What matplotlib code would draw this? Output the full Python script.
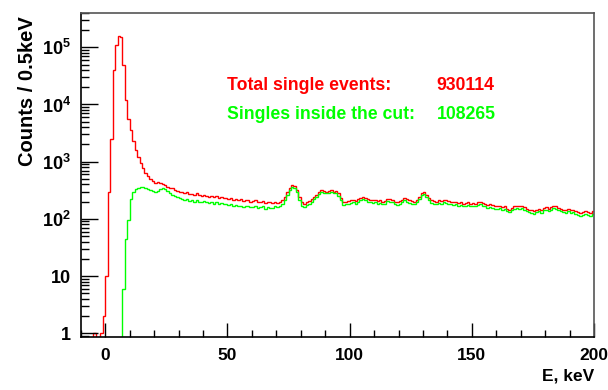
import matplotlib.pyplot as plt
import numpy as np
from matplotlib.ticker import LogLocator, MultipleLocator, NullFormatter

plt.rcParams["font.family"] = ["Liberation Sans", "DejaVu Sans"]
plt.rcParams["font.weight"] = "bold"
plt.rcParams["mathtext.fontset"] = "custom"
plt.rcParams["mathtext.rm"] = "Liberation Sans:bold"
plt.rcParams["mathtext.it"] = "Liberation Sans:bold"
plt.rcParams["mathtext.bf"] = "Liberation Sans:bold"

# histogram binning: 1 keV bins starting at -10 keV
bin_start = -10
bin_width = 1

# total single events, counts per bin (bins -10 .. 199 keV)
total = [
    0, 0, 0, 0, 0, 1, 0, 0, 1, 2,
    10, 300, 2500, 40000, 110000, 160000, 150000, 50000, 12000, 5500,
    3600, 2300, 1600, 1200, 950, 780, 640, 560, 500, 450,
    430, 435, 420, 410, 385, 360, 350, 340, 320, 310,
    300, 295, 285, 290, 270, 275, 265, 280, 260, 255,
    260, 250, 245, 255, 240, 250, 235, 240, 230, 235,
    225, 230, 215, 225, 210, 220, 205, 215, 210, 200,
    205, 210, 195, 200, 205, 190, 200, 195, 190, 200,
    190, 195, 210, 240, 290, 350, 390, 380, 320, 240,
    200, 185, 195, 205, 220, 240, 265, 300, 320, 310,
    300, 305, 315, 300, 310, 280, 230, 195, 200, 205,
    210, 215, 205, 220, 235, 240, 230, 220, 215, 210,
    215, 205, 210, 200, 205, 225, 220, 215, 200, 195,
    205, 215, 230, 220, 210, 205, 200, 215, 240, 280,
    300, 260, 230, 210, 205, 200, 210, 205, 215, 210,
    205, 200, 195, 200, 190, 195, 185, 190, 195, 185,
    190, 185, 195, 200, 190, 185, 175, 180, 175, 170,
    165, 170, 160, 165, 150, 145, 155, 165, 170, 165,
    170, 160, 150, 145, 140, 135, 145, 150, 140, 155,
    160, 150, 160, 170, 165, 155, 150, 145, 140, 150,
    140, 145, 135, 130, 125, 130, 135, 130, 125, 135,
]

# singles inside the cut
inside = [
    0, 0, 0, 0, 0, 0, 0, 0, 0, 0,
    0, 0, 0, 0, 0, 0, 0, 6, 45, 95,
    220, 290, 330, 350, 360, 355, 340, 335, 320, 310,
    300, 310, 330, 345, 330, 305, 285, 260, 250, 240,
    230, 225, 215, 220, 205, 215, 200, 210, 200, 195,
    205, 195, 190, 200, 185, 195, 180, 190, 180, 185,
    175, 180, 165, 175, 165, 170, 160, 170, 165, 160,
    160, 170, 155, 160, 165, 150, 160, 155, 155, 165,
    160, 170, 185, 215, 265, 320, 360, 350, 290, 210,
    170, 160, 175, 185, 200, 220, 245, 275, 295, 285,
    280, 285, 290, 280, 285, 255, 210, 175, 180, 185,
    190, 195, 185, 200, 215, 220, 210, 200, 195, 190,
    195, 185, 190, 180, 185, 205, 200, 195, 180, 175,
    185, 195, 210, 200, 190, 185, 180, 195, 220, 260,
    275, 240, 210, 190, 185, 180, 190, 185, 195, 190,
    185, 180, 175, 180, 170, 175, 165, 170, 175, 165,
    170, 165, 175, 180, 170, 165, 155, 160, 155, 150,
    150, 155, 140, 150, 135, 130, 140, 150, 155, 150,
    155, 145, 135, 130, 125, 120, 130, 135, 125, 140,
    145, 135, 145, 155, 150, 140, 135, 130, 125, 135,
    125, 130, 120, 118, 112, 118, 122, 118, 112, 122,
]

n_total = "930114"
n_inside = "108265"

edges = bin_start + bin_width * np.arange(len(total) + 1)

fig = plt.figure(figsize=(6.08, 3.9), dpi=100)
ax = fig.add_axes([0.133, 0.136, 0.844, 0.831])

ax.stairs(total, edges, color="red", linewidth=1, baseline=None)
ax.stairs(inside, edges, color="#00ff00", linewidth=1, baseline=None)

ax.set_yscale("log")
ax.set_xlim(-10, 200)
ax.set_ylim(0.86, 4e5)

ax.set_yticks([1, 10, 1e2, 1e3, 1e4, 1e5])
ax.set_yticklabels(["1", "10", r"$10^{2}$", r"$10^{3}$", r"$10^{4}$", r"$10^{5}$"])
ax.yaxis.set_minor_locator(LogLocator(base=10, subs=np.arange(2, 10)))
ax.yaxis.set_minor_formatter(NullFormatter())
ax.set_xticks([0, 50, 100, 150, 200])
ax.xaxis.set_minor_locator(MultipleLocator(10))

ax.tick_params(which="both", direction="in", top=False, right=False,
               labelsize=13, width=1)
ax.tick_params(axis="y", which="major", length=12, pad=7)
ax.tick_params(axis="y", which="minor", length=6)
ax.tick_params(axis="x", which="major", length=10, pad=8, labelsize=12.5)
ax.tick_params(axis="x", which="minor", length=5)
for side in ["left", "bottom"]:
    ax.spines[side].set_color("black")
for side in ["top", "right"]:
    ax.spines[side].set_color("#555555")
for sp in ax.spines.values():
    sp.set_linewidth(1.2)

ax.set_xlabel("E, keV", fontsize=12.5, fontweight="bold", loc="right", labelpad=4)
ax.set_ylabel("Counts / 0.5keV", fontsize=14.5, fontweight="bold", loc="top")
ax.yaxis.set_label_coords(-0.085, 0.99)

ax.text(0.285, 0.775, "Total single events:", transform=ax.transAxes,
        color="red", fontsize=12.7, fontweight="bold", va="center")
ax.text(0.693, 0.775, n_total, transform=ax.transAxes,
        color="red", fontsize=12.7, fontweight="bold", va="center")
ax.text(0.285, 0.685, "Singles inside the cut:", transform=ax.transAxes,
        color="#00ff00", fontsize=12.7, fontweight="bold", va="center")
ax.text(0.693, 0.685, n_inside, transform=ax.transAxes,
        color="#00ff00", fontsize=12.7, fontweight="bold", va="center")

fig.savefig("out.png", dpi=100)
